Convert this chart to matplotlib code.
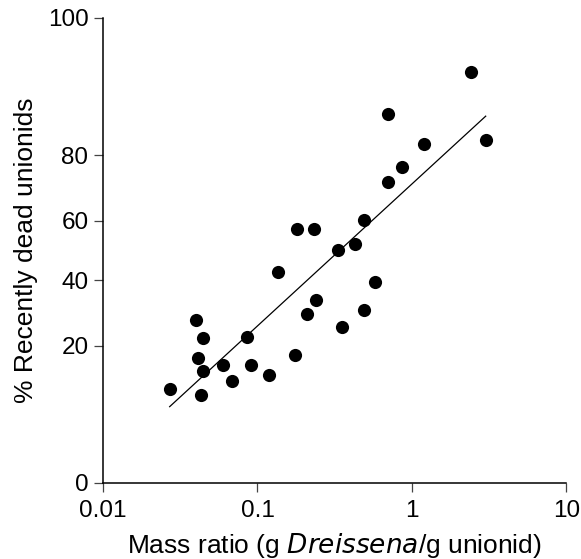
import numpy as np
import matplotlib
matplotlib.use("Agg")
import matplotlib.pyplot as plt

# Data (mass ratio, % recently dead unionids)
mass_ratio = [2.41, 0.699, 3.0, 1.196, 0.865, 0.699, 0.489, 0.180, 0.231, 0.428,
              0.332, 0.135, 0.579, 0.239, 0.208, 0.489, 0.351, 0.040, 0.0444, 0.0851,
              0.041, 0.1757, 0.060, 0.0903, 0.0444, 0.0684, 0.118, 0.027, 0.0431]
pct_dead = [96.7, 89.8, 83.9, 83.0, 76.6, 72.4, 60.2, 57.2, 57.4, 52.3,
            50.1, 42.8, 39.3, 33.5, 29.1, 30.3, 25.2, 27.5, 22.2, 22.5,
            16.9, 17.5, 15.0, 15.1, 13.6, 11.3, 12.7, 9.8, 8.5]

fit_x = [0.027, 3.0]
fit_y = [6.5, 89.4]

x_ticks = [0.01, 0.1, 1, 10]
x_ticklabels = ["0.01", "0.1", "1", "10"]
y_ticks = [0, 20, 40, 60, 80, 100]
y_ticklabels = ["0", "20", "40", "60", "80", "100"]

plt.rcParams['font.family'] = ['Liberation Sans', 'DejaVu Sans']

def fwd(p):
    p = np.clip(np.asarray(p, dtype=float) / 100.0, 0, 1)
    return np.arcsin(np.sqrt(p))

def inv(t):
    t = np.clip(np.asarray(t, dtype=float), 0, np.pi / 2)
    return 100.0 * np.sin(t) ** 2

fig = plt.figure(figsize=(5.81, 5.59), dpi=100)
ax = fig.add_axes([0.1773, 0.136, 0.975 - 0.1773, 0.9678 - 0.136])

ax.set_xscale('log')
ax.set_yscale('function', functions=(fwd, inv))

ax.scatter(mass_ratio, pct_dead, s=90, color='black', zorder=3, linewidths=0)
ax.plot(fit_x, fit_y, color='black', linewidth=0.9)

ax.set_xlim(0.01, 10)
ax.set_ylim(0, 100)
ax.set_xticks(x_ticks)
ax.set_xticklabels(x_ticklabels)
ax.set_yticks(y_ticks)
ax.set_yticklabels(y_ticklabels)
ax.xaxis.set_minor_locator(matplotlib.ticker.NullLocator())
ax.yaxis.set_minor_locator(matplotlib.ticker.NullLocator())

for s in ['top', 'right']:
    ax.spines[s].set_visible(False)
for s in ['left', 'bottom']:
    ax.spines[s].set_linewidth(1.1)
    ax.spines[s].set_color('black')

ax.tick_params(axis='both', direction='out', length=6.5, width=0.9,
               color='#444444', labelsize=17.5, pad=4)
ax.tick_params(axis='x', pad=6)

ax.set_xlabel("Mass ratio (g $\\it{Dreissena}$/g unionid)", fontsize=19, labelpad=6)
ax.set_ylabel("% Recently dead unionids", fontsize=19, labelpad=7)

fig.savefig("out.png", dpi=100)
